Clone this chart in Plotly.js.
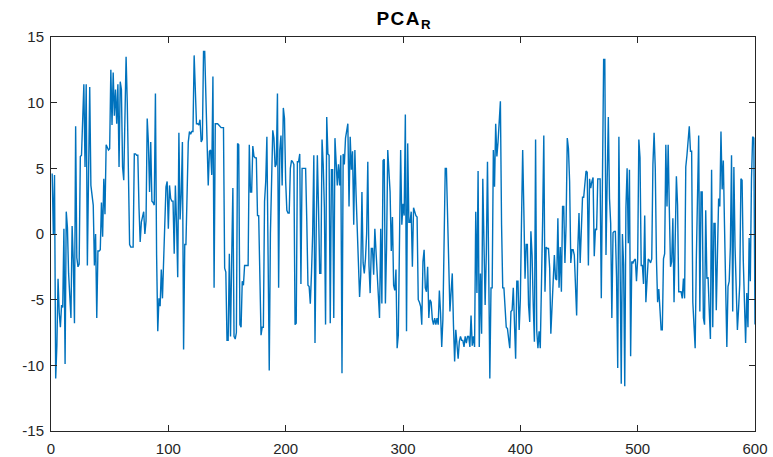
<!DOCTYPE html>
<html>
<head>
<meta charset="utf-8">
<script src="https://cdn.plot.ly/plotly-3.0.1.min.js"></script>
<style>html,body{margin:0;padding:0;background:#fff;}#chart{width:773px;height:457px;}
#chart .gtitle{letter-spacing:1.5px;}</style>
</head>
<body>
<div id="chart"></div>
<script>
// PCA_R series, samples 1-100
var pcaR_001_100 = [
  4.6, 0.0, 4.5, -11.0, -8.5, -3.4, -6.0, -7.1, -5.4, -5.6,
  0.4, -9.9, 1.7, 0.5, -3.0, -4.5, -6.4, 0.6, -2.0, -6.8,
  8.2, -1.8, -2.5, -2.3, 5.9, 6.0, 9.0, 11.4, 5.1, 11.4,
  -2.4, 5.0, 11.2, 3.7, 3.0, 2.2, -2.4, 0.0, -6.4, -1.3,
  -1.3, -1.2, 2.4, -0.2, 4.2, 1.5, 6.8, 6.6, 6.4, 6.5,
  12.5, 8.3, 12.3, 9.0, 11.0, 8.4, 11.4, 5.1, 11.6, 11.0,
  5.1, 4.1, 8.0, 13.5, 10.0, 5.0, -0.8, -1.0, -1.0, -1.0,
  6.1, 6.1, 6.0, 6.0, 2.0, -0.6, 0.9, 1.3, 1.7, 0.0,
  1.0, 8.8, 7.0, 3.2, 7.0, 2.5, 2.4, 2.2, 10.7, -1.6,
  -7.4, -4.9, -5.5, -2.7, -4.9, -2.0, 1.0, 3.6, 4.0, 0.4
];
// samples 101-200
var pcaR_101_200 = [
  3.7, 2.7, 2.5, 2.5, -1.5, 3.7, 0.9, -3.3, 7.7, 1.1,
  3.0, 7.0, -8.8, -0.8, -0.8, 3.0, 7.0, 7.8, 7.6, 7.8,
  7.8, 13.6, 11.0, 8.4, 8.4, 8.3, 8.7, 7.0, 7.2, 13.9,
  13.9, 11.0, 7.0, 3.7, 6.3, 6.4, 4.5, 12.0, -4.1, 8.4,
  8.4, 8.4, 8.3, 8.2, 8.1, 8.1, 8.1, -2.6, -2.9, -8.1,
  -8.1, -1.5, -7.8, -1.9, 3.5, -7.8, -8.0, -7.5, 6.9, 6.8,
  -6.9, -7.1, -3.6, -3.9, -2.4, -2.4, -2.4, -2.4, 6.8, 3.2,
  3.2, 6.7, 5.9, 5.8, 5.8, 1.4, 1.4, -3.0, -7.7, -7.1,
  -7.1, 2.5, 4.0, 7.4, -3.0, -10.4, 0.0, 5.5, 7.9, 7.3,
  5.1, 5.3, 10.7, -4.1, 6.4, 7.5, 3.7, 9.6, 8.8, 4.0
];
// samples 201-300
var pcaR_201_300 = [
  1.8, 1.6, 1.6, 5.0, 5.6, 5.5, 5.3, -6.9, -6.8, 5.5,
  5.5, 6.1, -3.8, 5.0, 5.0, 5.0, 5.0, 1.0, -3.9, -4.0,
  -5.3, -3.0, 0.0, 6.0, -8.3, 0.0, 6.0, 2.0, -3.0, -3.0,
  7.2, 5.3, 2.0, -6.9, 8.9, 6.1, 6.0, -6.8, 4.9, 4.9,
  -6.4, 7.3, 5.0, 3.7, 5.3, 3.7, 6.0, -10.6, 6.1, 5.3,
  7.3, 7.8, 8.4, 2.1, 7.4, 4.9, 6.3, 0.7, 6.4, 3.0,
  0.0, -3.6, -4.8, -3.1, 3.2, -2.2, -3.0, -1.9, 0.0, 5.5,
  -2.4, -4.5, -1.1, -1.1, -3.1, 0.4, -1.1, -2.9, -4.5, -6.4,
  0.4, -5.3, 5.6, 5.7, -5.3, -1.0, 6.4, 5.0, 3.2, -1.3,
  1.3, -3.9, -4.3, -2.7, -8.7, -7.7, 2.0, 6.4, 0.7, 2.3
];
// samples 301-400
var pcaR_301_400 = [
  1.4, 9.1, -7.4, 6.9, 0.9, 0.9, 1.7, -2.5, 2.0, 1.7,
  1.4, 1.3, -5.0, -5.2, -5.5, -6.9, -2.1, -1.2, -4.1, -4.4,
  -2.5, -6.4, -5.0, -5.2, -6.5, -6.9, -6.4, -6.9, -6.4, -6.9,
  -4.3, -6.0, -8.6, -6.5, -1.9, 5.0, 5.0, 0.7, -1.9, -5.9,
  -4.4, -3.0, -6.9, -9.7, -7.3, -8.3, -9.5, -8.2, -7.8, -8.1,
  -8.1, -8.6, -7.8, -8.3, -7.8, -7.8, -8.6, -6.2, -8.5, -7.8,
  -8.6, 1.7, -4.5, 4.8, -8.6, -3.0, -7.6, 4.2, -2.0, -5.4,
  -1.5, 5.5, -2.2, -11.0, -4.1, -4.1, 6.4, 3.6, 8.4, 5.9,
  7.0, 8.4, 10.1, 0.7, -4.1, -4.1, -5.7, -7.1, -7.2, -8.0,
  -8.7, -5.9, -5.8, -4.1, -6.4, -9.5, -3.6, -3.6, -7.3, -5.0
];
// samples 401-500
var pcaR_401_500 = [
  1.0, 6.4, 1.8, -3.4, -0.8, -0.8, -5.4, -6.7, 0.2, -1.6,
  -5.4, -8.2, 7.2, -7.4, -8.7, -7.4, -8.7, -4.4, 1.0, 7.5,
  -4.4, -1.0, -1.1, -1.1, -2.6, -7.6, -5.2, -3.0, -1.6, -3.4,
  -3.5, 1.2, -4.1, -1.0, -4.4, 2.1, 2.1, -2.2, 0.7, 7.3,
  6.5, 4.0, -2.2, -1.2, -1.2, -1.6, -3.4, -6.2, -1.1, 1.6,
  -2.2, 0.4, 2.8, 2.8, 3.8, 4.8, 4.7, -2.4, 4.2, 3.5,
  4.0, 4.3, -1.7, 0.4, 0.3, 4.2, 4.2, 4.2, -4.9, 8.3,
  13.3, 13.3, -1.6, 4.0, 8.9, 2.7, 0.8, -6.4, 0.1, 0.2,
  0.2, -3.3, -10.2, 7.4, -2.0, -11.4, 0.0, -2.3, -11.6, 2.0,
  5.0, -0.7, 4.9, -9.3, -2.1, -2.2, -2.0, -1.9, -3.6, -1.9
];
// samples 501-600
var pcaR_501_600 = [
  7.2, 5.8, -2.4, -2.4, -3.8, 1.4, -5.2, -2.9, -1.9, -2.0,
  -2.2, -1.9, 5.3, 7.7, 5.0, -1.9, -5.2, -4.2, -6.1, -7.3,
  -7.3, -1.9, -1.5, 6.8, 2.1, 6.8, 1.8, -2.5, -2.1, 1.2,
  -5.2, 0.6, 4.4, 2.2, -4.4, -4.4, -4.4, -4.9, -3.4, -4.9,
  5.1, 6.0, 7.0, 8.2, 6.3, 6.3, -5.2, -7.0, -8.7, -1.9,
  2.6, 7.5, -5.9, 3.2, 3.2, -6.4, -6.9, 1.8, -3.4, -3.3,
  -5.8, -8.0, 4.9, -7.1, 0.8, 0.8, -5.8, -1.3, 2.7, 2.1,
  7.8, 3.4, 5.6, 0.7, -3.9, -8.6, -4.0, -3.6, -1.0, 6.0,
  -5.9, 5.1, -1.0, -5.2, -7.3, -5.7, -3.8, 4.2, 4.1, -2.0,
  -5.9, -8.3, -4.5, -7.1, -0.3, -3.6, 4.2, 7.4, 7.3, -6.9
];
var xTickVals = [0, 100, 200, 300, 400, 500, 600];
var yTickVals = [-15, -10, -5, 0, 5, 10, 15];
var chartTitle = '<b>PCA<sub>R</sub></b>';

var yValues = [].concat(pcaR_001_100, pcaR_101_200, pcaR_201_300, pcaR_301_400, pcaR_401_500, pcaR_501_600);
var xValues = yValues.map(function (_, i) { return i + 1; });

var axisCommon = {
  showgrid: false, zeroline: false, showline: true, mirror: 'ticks',
  linecolor: '#262626', linewidth: 1, ticks: 'inside', ticklen: 6, tickwidth: 1,
  tickcolor: '#262626', tickfont: {family: 'Liberation Sans, Arial, sans-serif', size: 15, color: '#262626'}
};

var trace = {
  x: xValues, y: yValues, type: 'scatter', mode: 'lines',
  line: {color: '#0072BD', width: 1.4}, hoverinfo: 'none'
};

var layout = {
  width: 773, height: 457,
  margin: {l: 51, r: 18, t: 37, b: 26},
  paper_bgcolor: '#ffffff', plot_bgcolor: '#ffffff',
  showlegend: false,
  title: {
    text: chartTitle,
    font: {family: 'Liberation Sans, Arial, sans-serif', size: 19, color: '#000000'},
    x: 0.523, xanchor: 'center', y: 0.96, yanchor: 'middle', yref: 'container'
  },
  xaxis: Object.assign({}, axisCommon, {range: [0, 600], tickvals: xTickVals, ticktext: xTickVals.map(String), ticklabelstandoff: 4}),
  yaxis: Object.assign({}, axisCommon, {range: [-15, 15], tickvals: yTickVals, ticktext: yTickVals.map(String), ticklabelstandoff: 3})
};

Plotly.newPlot('chart', [trace], layout, {staticPlot: true, displayModeBar: false});
</script>
</body>
</html>
